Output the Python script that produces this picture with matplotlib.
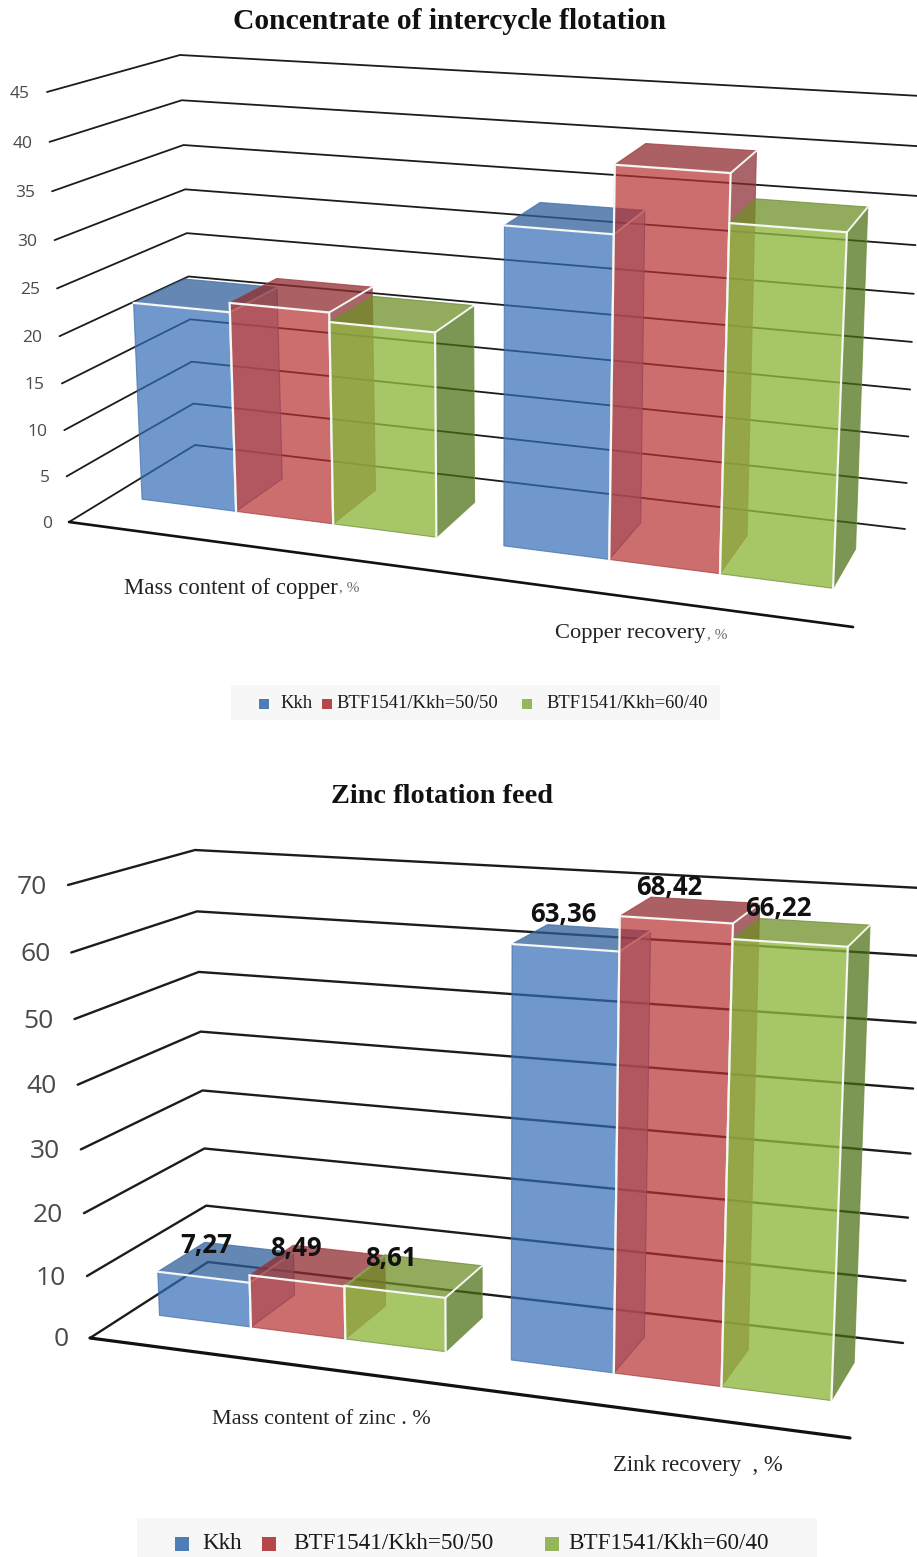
import numpy as np
import matplotlib
matplotlib.use("Agg")
import matplotlib.pyplot as plt
from matplotlib.patches import Polygon, Rectangle

series = ["Kkh", "BTF1541/Kkh=50/50", "BTF1541/Kkh=60/40"]

# values, top chart has no labels so these are read off the grid
copper_content = [21.7, 22.7, 21.7]
copper_recovery = [33.2, 40.0, 35.2]
zinc_content = [7.27, 8.49, 8.61]
zinc_recovery = [63.36, 68.42, 66.22]

copper_ticks = [0, 5, 10, 15, 20, 25, 30, 35, 40, 45]
zinc_ticks = [0, 10, 20, 30, 40, 50, 60, 70]

# colours per series, these get alpha so the grid shows through
front_col = ["#336db9", "#b93030", "#8bb538"]
side_col = ["#7f98bd", "#8a2a30", "#486f11"]
top_col = ["#30609a", "#8f2c30", "#6f8f25"]
edge_col = ["#3f6ea6", "#a23c40", "#6f8c3a"]
swatch_col = ["#4f7db5", "#b5474b", "#96b65c"]

# left/right edge of each bar along the floor, 0..1
edges = [[0.039, 0.163, 0.291, 0.427], [0.516, 0.655, 0.801, 0.950]]
w_front = 0.345
w_back = 0.75

# frame corners in pixels: floor FL, FR, BL, BR, then the same at the top value
frame_copper = np.array([[69, 522], [853, 627], [195, 445], [905, 529],
                         [47, 92], [875, 149], [180, 55], [921, 96]], float)
frame_zinc = np.array([[90, 1338], [850, 1438], [208, 1262], [903, 1343],
                       [68, 885], [870, 940], [195, 850], [921, 888]], float)


def project(frame, vmax, u, w, v):
    f = v / vmax
    f = f - 0.05 * f * (1 - f)  # wall spacing grows a bit going up
    floor = (1-u)*(1-w)*frame[0] + u*(1-w)*frame[1] + (1-u)*w*frame[2] + u*w*frame[3]
    top = (1-u)*(1-w)*frame[4] + u*(1-w)*frame[5] + (1-u)*w*frame[6] + u*w*frame[7]
    return floor + f * (top - floor)


def line(ax, pts, color, lw, z=2):
    pts = np.array(pts)
    ax.plot(pts[:, 0], pts[:, 1], color=color, lw=lw, solid_capstyle="round", zorder=z)


def draw_bar(ax, frame, vmax, u0, u1, v, i, z):
    p = lambda u, w, val: project(frame, vmax, u, w, val)
    fb0, fb1 = p(u0, w_front, 0), p(u1, w_front, 0)
    ft0, ft1 = p(u0, w_front, v), p(u1, w_front, v)
    bb1 = p(u1, w_back, 0)
    bt0, bt1 = p(u0, w_back, v), p(u1, w_back, v)

    ax.add_patch(Polygon([fb1, bb1, bt1, ft1], fc=side_col[i], ec=edge_col[i], lw=0.8, alpha=0.72, zorder=z))
    ax.add_patch(Polygon([ft0, ft1, bt1, bt0], fc=top_col[i], ec=edge_col[i], lw=0.8, alpha=0.75, zorder=z+1))
    if i == 2:
        # keeps the red side from going olive behind the green front
        ax.add_patch(Polygon([fb0, fb1, ft1, ft0], fc="#aecb74", ec="none", alpha=0.3, zorder=z+1))
    ax.add_patch(Polygon([fb0, fb1, ft1, ft0], fc=front_col[i], ec=edge_col[i], lw=0.8, alpha=0.7, zorder=z+2))
    # white highlights
    hl = "#f4f7f2"
    line(ax, [ft0, ft1], hl, 1.6, z+3)
    line(ax, [fb1, ft1], hl, 1.6, z+3)
    line(ax, [ft1, bt1], hl, 1.4, z+3)
    if i > 0:
        line(ax, [fb0, ft0], hl, 1.6, z+3)


def draw_chart(ax, frame, ticks, groups, tick_size, tick_gap, lw):
    vmax = ticks[-1]
    for t in ticks:
        a = project(frame, vmax, 0, 0, t)
        b = project(frame, vmax, 0, 1, t)
        c = project(frame, vmax, 1, 1, t)
        line(ax, [a, b, c], "#1c1c1c", lw)
        ax.text(a[0] - tick_gap, a[1] + 2, str(t), ha="right", va="center",
                fontsize=tick_size, color="#4a4a4a", family="Open Sans")
    line(ax, [project(frame, vmax, 0, 0, 0), project(frame, vmax, 1, 0, 0)], "#111111", lw + 0.6)

    z = 5
    for g, vals in enumerate(groups):
        for i in range(3):
            draw_bar(ax, frame, vmax, edges[g][i], edges[g][i+1], vals[i], i, z)
            z += 4


def draw_legend(ax, box, text_y, squares, labels, size, sq):
    ax.add_patch(Rectangle((box[0], box[1]), box[2], box[3], fc="#f7f7f7", ec="none", zorder=1))
    for i in range(3):
        ax.add_patch(Rectangle((squares[i], text_y - sq/2), sq, sq,
                               fc=swatch_col[i], ec="none", zorder=2))
        ax.text(labels[i], text_y - 0.5, series[i], ha="left", va="center",
                fontsize=size, family="Liberation Serif", color="#1a1a1a", zorder=3)


fig = plt.figure(figsize=(9.17, 15.57), dpi=100)
ax = fig.add_axes([0, 0, 1, 1])
ax.set_xlim(0, 917)
ax.set_ylim(1557, 0)
ax.axis("off")

serif = "Liberation Serif"

# top chart
ax.text(450, 21, "Concentrate of intercycle flotation", ha="center", va="center",
        fontsize=21.3, fontweight="bold", family=serif, color="#111111")
draw_chart(ax, frame_copper, copper_ticks, [copper_content, copper_recovery], 12.5, 17, 1.3)
ax.text(124, 588, "Mass content of copper", ha="left", va="center", fontsize=16.4, family=serif, color="#222222")
ax.text(339, 588, ", %", ha="left", va="center", fontsize=11, family=serif, color="#666666")
ax.text(555, 633, "Copper recovery", ha="left", va="center", fontsize=16.2, family=serif, color="#222222")
ax.text(707, 635, ", %", ha="left", va="center", fontsize=11, family=serif, color="#666666")
draw_legend(ax, (231, 685, 489, 35), 704, [259, 322, 522], [280, 336, 546], 13.4, 10)

# bottom chart
ax.text(442, 796, "Zinc flotation feed", ha="center", va="center",
        fontsize=20.3, fontweight="bold", family=serif, color="#111111")
draw_chart(ax, frame_zinc, zinc_ticks, [zinc_content, zinc_recovery], 19, 21, 1.7)

zinc_label_off = [(-43, -2), (-36, -13)]
for g, vals in enumerate([zinc_content, zinc_recovery]):
    for i, v in enumerate(vals):
        pos = project(frame_zinc, zinc_ticks[-1], (edges[g][i] + edges[g][i+1]) / 2, w_back, v)
        ax.text(pos[0] + zinc_label_off[g][0], pos[1] + zinc_label_off[g][1],
                f"{v:.2f}".replace(".", ","), ha="center", va="center", fontsize=18.5,
                fontweight="bold", family="Open Sans", color="#111111", zorder=60)

ax.text(212, 1420, "Mass content of zinc . %", ha="left", va="center", fontsize=15.9, family=serif, color="#222222")
ax.text(613, 1466, "Zink recovery  , %", ha="left", va="center", fontsize=16.4, family=serif, color="#222222")
draw_legend(ax, (137, 1518, 680, 39), 1544, [175, 262, 545], [202, 293, 568], 16.7, 14)

fig.savefig("out.png", dpi=100)
